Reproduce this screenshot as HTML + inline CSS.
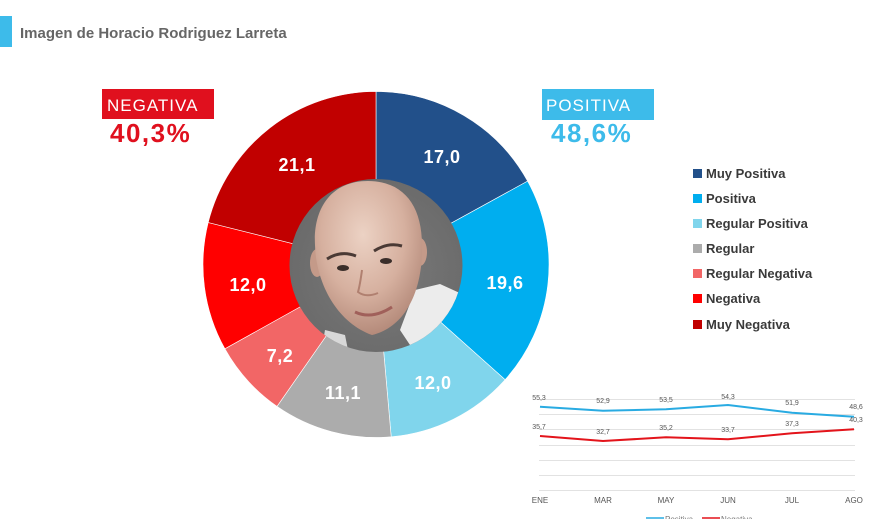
<!DOCTYPE html>
<html><head><meta charset="utf-8"><style>
html,body{margin:0;padding:0;background:#fff;}
svg{display:block;}
text{font-family:"Liberation Sans",sans-serif;}
</style></head><body>
<svg width="878" height="519" viewBox="0 0 878 519" xmlns="http://www.w3.org/2000/svg">
<defs>
<clipPath id="ph"><circle cx="376" cy="265.5" r="86.5"/></clipPath>
<radialGradient id="skin" cx="0.45" cy="0.35" r="0.65">
<stop offset="0" stop-color="#ecd2c4"/><stop offset="0.6" stop-color="#d6b09f"/><stop offset="1" stop-color="#b58b7b"/>
</radialGradient>
<radialGradient id="bg" cx="0.5" cy="0.5" r="0.6">
<stop offset="0" stop-color="#7a7a7a"/><stop offset="1" stop-color="#666"/>
</radialGradient>
</defs>

<!-- title -->
<rect x="0" y="16" width="12" height="31" fill="#3dbbea"/>
<text x="20" y="38" font-size="15" font-weight="bold" fill="#666">Imagen de Horacio Rodriguez Larreta</text>

<!-- NEGATIVA -->
<rect x="102" y="89" width="112" height="30" fill="#e0101e"/>
<text x="107" y="111" font-size="17" fill="#fff" letter-spacing="1">NEGATIVA</text>
<text x="110" y="142" font-size="26" font-weight="bold" fill="#e0101e" letter-spacing="1.5">40,3%</text>

<!-- POSITIVA -->
<rect x="542" y="89" width="112" height="31" fill="#3dbbea"/>
<text x="546" y="111" font-size="17" fill="#fff" letter-spacing="1">POSITIVA</text>
<text x="551" y="142" font-size="26" font-weight="bold" fill="#3dbbea" letter-spacing="1.5">48,6%</text>

<!-- donut -->
<g stroke="#fff" stroke-width="0.6">
<path d="M376 264.5 L376 91.5 A173 173 0 0 1 527.6 181.15 Z" fill="#22508a"/>
<path d="M376 264.5 L527.6 181.15 A173 173 0 0 1 505.1 379.7 Z" fill="#00aeef"/>
<path d="M376 264.5 L505.1 379.7 A173 173 0 0 1 391.2 436.8 Z" fill="#80d5ec"/>
<path d="M376 264.5 L391.2 436.8 A173 173 0 0 1 277.0 406.4 Z" fill="#acacac"/>
<path d="M376 264.5 L277.0 406.4 A173 173 0 0 1 224.9 348.8 Z" fill="#f26666"/>
<path d="M376 264.5 L224.9 348.8 A173 173 0 0 1 208.2 222.5 Z" fill="#ff0000"/>
<path d="M376 264.5 L208.2 222.5 A173 173 0 0 1 376 91.5 Z" fill="#c10000"/>
</g>

<!-- photo -->
<g clip-path="url(#ph)">
<rect x="280" y="170" width="200" height="200" fill="url(#bg)"/>
<path d="M415 290 L440 284 L475 300 L475 340 L440 340 L410 345 L400 330 Z" fill="#ececec"/>
<path d="M325 330 L345 335 L350 360 L320 360 Z" fill="#d8d8d8"/>
<ellipse cx="317" cy="263" rx="7" ry="14" fill="#c49a89"/>
<ellipse cx="420" cy="252" rx="7" ry="14" fill="#c49a89"/>
<path d="M368 181 C330 181 313 210 315 245 C316 282 336 322 372 335 C406 327 423 290 422 245 C422 205 403 181 368 181 Z" fill="url(#skin)"/>
<path d="M327 259 Q341 250 356 256" stroke="#4a3a35" stroke-width="3" fill="none"/>
<path d="M374 251 Q388 242 402 246" stroke="#4a3a35" stroke-width="3" fill="none"/>
<ellipse cx="343" cy="268" rx="6" ry="3" fill="#3a2e2a"/>
<ellipse cx="386" cy="261" rx="6" ry="3" fill="#3a2e2a"/>
<path d="M362 270 Q360 285 358 292 Q366 298 378 293" stroke="#b08070" stroke-width="2" fill="none"/>
<path d="M355 312 Q372 320 392 307" stroke="#a0605a" stroke-width="3" fill="none"/>
</g>

<!-- segment labels -->
<g font-size="18" font-weight="bold" fill="#fff" text-anchor="middle" letter-spacing="0.5">
<text x="442" y="163">17,0</text>
<text x="505" y="289">19,6</text>
<text x="433" y="389">12,0</text>
<text x="343" y="399">11,1</text>
<text x="280" y="362">7,2</text>
<text x="248" y="291">12,0</text>
<text x="297" y="171">21,1</text>
</g>

<!-- legend -->
<g font-size="13" font-weight="bold" fill="#3a3a3a">
<rect x="693" y="169" width="9" height="9" fill="#22508a"/><text x="706" y="178">Muy Positiva</text>
<rect x="693" y="194" width="9" height="9" fill="#00aeef"/><text x="706" y="203">Positiva</text>
<rect x="693" y="219" width="9" height="9" fill="#80d5ec"/><text x="706" y="228">Regular Positiva</text>
<rect x="693" y="244" width="9" height="9" fill="#acacac"/><text x="706" y="253">Regular</text>
<rect x="693" y="269" width="9" height="9" fill="#f26666"/><text x="706" y="278">Regular Negativa</text>
<rect x="693" y="294" width="9" height="9" fill="#ff0000"/><text x="706" y="303">Negativa</text>
<rect x="693" y="320" width="9" height="9" fill="#c10000"/><text x="706" y="329">Muy Negativa</text>
</g>

<!-- line chart -->
<g stroke="#e2e2e2" stroke-width="1">
<line x1="539" y1="399.5" x2="855" y2="399.5"/>
<line x1="539" y1="414.5" x2="855" y2="414.5"/>
<line x1="539" y1="429.5" x2="855" y2="429.5"/>
<line x1="539" y1="445.5" x2="855" y2="445.5"/>
<line x1="539" y1="460.5" x2="855" y2="460.5"/>
<line x1="539" y1="475.5" x2="855" y2="475.5"/>
<line x1="539" y1="490.5" x2="855" y2="490.5"/>
</g>
<polyline points="540,406.7 603,410.7 666,409.3 728,405 792,412.7 854,416.7" fill="none" stroke="#29abe2" stroke-width="2"/>
<polyline points="540,436 603,441 666,437.3 728,439.3 792,433.3 854,429.3" fill="none" stroke="#e3141b" stroke-width="2"/>
<g font-size="7" fill="#555" text-anchor="middle">
<text x="539" y="400">55,3</text>
<text x="603" y="403">52,9</text>
<text x="666" y="402">53,5</text>
<text x="728" y="399">54,3</text>
<text x="792" y="405">51,9</text>
<text x="856" y="409">48,6</text>
<text x="539" y="429">35,7</text>
<text x="603" y="434">32,7</text>
<text x="666" y="430">35,2</text>
<text x="728" y="432">33,7</text>
<text x="792" y="426">37,3</text>
<text x="856" y="422">40,3</text>
</g>
<g font-size="8" fill="#555" text-anchor="middle">
<text x="540" y="503">ENE</text>
<text x="603" y="503">MAR</text>
<text x="666" y="503">MAY</text>
<text x="728" y="503">JUN</text>
<text x="792" y="503">JUL</text>
<text x="854" y="503">AGO</text>
</g>
<line x1="646" y1="518" x2="664" y2="518" stroke="#29abe2" stroke-width="1.5"/>
<text x="665" y="522" font-size="8" fill="#777">Positiva</text>
<line x1="702" y1="518" x2="720" y2="518" stroke="#e3141b" stroke-width="1.5"/>
<text x="721" y="522" font-size="8" fill="#777">Negativa</text>
</svg>
</body></html>
